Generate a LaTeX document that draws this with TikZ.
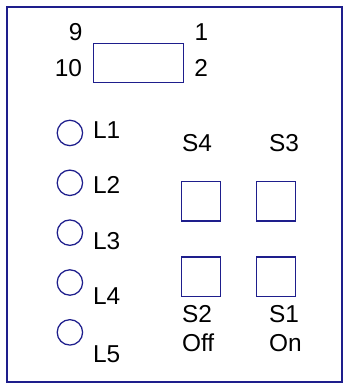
\documentclass[tikz,border=0pt]{standalone}
\usepackage{fontspec}
\setmainfont{Liberation Sans}
\definecolor{navy}{HTML}{1E1E8C}
\begin{document}
\begin{tikzpicture}[x=1pt,y=-1pt,
  lbl/.style={inner sep=0pt,anchor=base west,font=\fontsize{25}{29}\selectfont},
  clbl/.style={inner sep=0pt,anchor=base,font=\fontsize{25}{29}\selectfont},
  led/.style={draw=navy,line width=1.3pt,circle,minimum size=26pt,inner sep=0pt},
  sw/.style={draw=navy,line width=1.3pt,minimum size=40pt,inner sep=0pt},
  frame/.style={draw=navy,line width=2.2pt}]
\useasboundingbox (0,0) rectangle (357,401);
\draw[frame] (7,7) rectangle (350,391);
% connector block
\node[draw=navy,line width=1.3pt,minimum width=92pt,minimum height=40pt,inner sep=0pt] (conn) at (142,64.5) {};
\node[clbl] (p9) at (77.5,41) {9};
\node[clbl] (p1) at (206,41) {1};
\node[clbl] (p10) at (70,78) {10};
\node[clbl] (p2) at (205.7,78) {2};
% LEDs
\node[led] (c1) at (71.5,136) {};
\node[led] (c2) at (71.5,187) {};
\node[led] (c3) at (71.5,238) {};
\node[led] (c4) at (71.5,289) {};
\node[led] (c5) at (71.5,340) {};
\node[lbl] (l1) at (95,142) {L1};
\node[lbl] (l2) at (95,198) {L2};
\node[lbl] (l3) at (95,255.5) {L3};
\node[lbl] (l4) at (95,311.5) {L4};
\node[lbl] (l5) at (95,371) {L5};
% switches
\node[lbl] (s4) at (186,155) {S4};
\node[lbl] (s3) at (275,155) {S3};
\node[sw] (b4) at (205.5,206) {};
\node[sw] (b3) at (282.5,206) {};
\node[sw] (b2) at (205.5,283) {};
\node[sw] (b1) at (282.5,283) {};
\node[lbl] (s2) at (186,330) {S2};
\node[lbl] (s1) at (275,330) {S1};
\node[lbl] (off) at (186,360) {Off};
\node[lbl] (on) at (275,360) {On};
\end{tikzpicture}
\end{document}
